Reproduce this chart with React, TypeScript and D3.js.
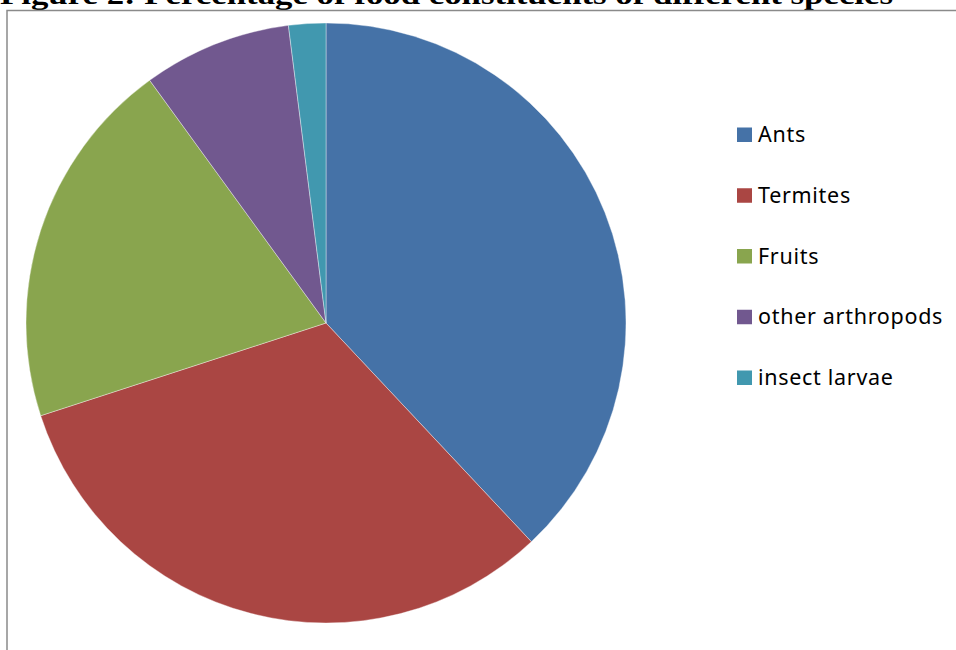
import React from "react";
import * as d3 from "d3";

const categories = ["Ants", "Termites", "Fruits", "other arthropods", "insect larvae"];
const values = [38, 32, 20, 8, 2];
const colors = ["#4572A7", "#AA4643", "#89A54E", "#71588F", "#4198AF"];
const title = "Figure 2: Percentage of food constituents of different species";

export default function App() {
  const W = 956, H = 650;
  const cx = 326, cy = 323, r = 300;
  const pie = d3.pie<number>().sort(null).value((d) => d)(values);
  const arc = d3.arc<d3.PieArcDatum<number>>().innerRadius(0).outerRadius(r);
  const legY = d3.scaleLinear().domain([0, categories.length - 1]).range([142, 385]);
  return (
    <svg width={W} height={H} style={{ position: "absolute", left: 0, top: 0, background: "#fff" }}>
      <text x={0} y={4} fontFamily="'Liberation Serif', 'DejaVu Serif', serif" fontWeight="bold" fontSize={27}
        textLength={893} lengthAdjust="spacingAndGlyphs" fill="#000">{title}</text>
      <rect x={7} y={10.5} width={W + 20} height={H + 20} fill="none" stroke="#8a8a8a" strokeWidth={1.5} />
      <g transform={`translate(${cx},${cy})`}>
        {pie.map((p, i) => (
          <path key={i} d={arc(p) || ""} fill={colors[i]} stroke="#fff" strokeOpacity={0.5} strokeWidth={0.75} />
        ))}
      </g>
      <g>
        {categories.map((c, i) => (
          <g key={c}>
            <rect x={737} y={legY(i) - 14.5} width={15} height={14.5} fill={colors[i]} />
            <text x={758} y={legY(i)} fontFamily="'Noto Sans', 'Open Sans', sans-serif" fontSize={21.5}
              letterSpacing={0.7} fill="#000">{c}</text>
          </g>
        ))}
      </g>
    </svg>
  );
}
